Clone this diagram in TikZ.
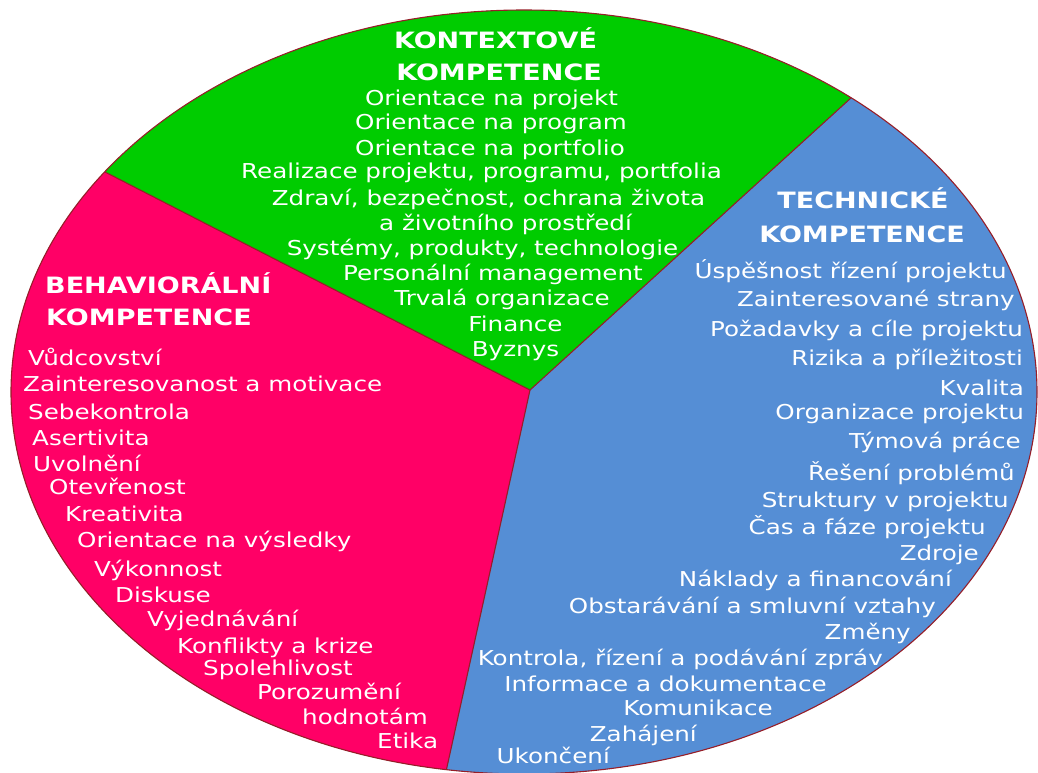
\documentclass[tikz,border=0pt]{standalone}
\usepackage{fontspec}
\setmainfont{DejaVu Sans}[FakeStretch=1.2]
\definecolor{cgreen}{RGB}{0,204,0}
\definecolor{cpink}{RGB}{255,0,102}
\definecolor{cblue}{RGB}{85,142,213}
\definecolor{cedge}{RGB}{150,30,40}
\newcommand{\bodyfnt}{\fontsize{20.5}{25}\selectfont}
\newcommand{\titfnt}{\fontsize{22.5}{28}\selectfont\bfseries}
\begin{document}
\begin{tikzpicture}[x=1pt,y=-1pt,
  lbl/.style={text=white,inner sep=0pt,font=\bodyfnt},
  ttl/.style={text=white,inner sep=0pt,font=\titfnt},
  edgeline/.style={draw=cedge,line width=1.1pt}]
\useasboundingbox (0,0) rectangle (1038,772);
\coordinate (O) at (524,392);
\coordinate (C) at (530,390);
\coordinate (E1) at (-316,-44);
\coordinate (E2) at (1174,-196);
\coordinate (E3) at (364,1144);
% sectors
\fill[cblue] (O) ellipse [x radius=513pt, y radius=382pt];
\begin{scope}
  \clip (C) -- (E1) -- (-316,1144) -- (E3) -- cycle;
  \fill[cpink] (O) ellipse [x radius=513pt, y radius=382pt];
\end{scope}
\begin{scope}
  \clip (C) -- (E1) -- (-316,-400) -- (1174,-400) -- (E2) -- cycle;
  \fill[cgreen] (O) ellipse [x radius=513pt, y radius=382pt];
\end{scope}
\begin{scope}
  \clip (O) ellipse [x radius=513pt, y radius=382pt];
  \draw[edgeline] (C) -- (E1);
  \draw[edgeline] (C) -- (E2);
  \draw[edgeline] (C) -- (E3);
\end{scope}
\draw[edgeline] (O) ellipse [x radius=513pt, y radius=382pt];

% green sector
\node[ttl,anchor=base] (g0) at (495.5,48) {KONTEXTOVÉ};
\node[ttl,anchor=base] (g00) at (499,80) {KOMPETENCE};
\node[lbl,anchor=base] (g1) at (491.5,105) {Orientace na projekt};
\node[lbl,anchor=base] (g2) at (491,129) {Orientace na program};
\node[lbl,anchor=base] (g3) at (490,155) {Orientace na portfolio};
\node[lbl,anchor=base] (g4) at (481.5,178) {Realizace projektu, programu, portfolia};
\node[lbl,anchor=base] (g5) at (488.5,205) {Zdraví, bezpečnost, ochrana života};
\node[lbl,anchor=base] (g6) at (505.5,230) {a životního prostředí};
\node[lbl,anchor=base] (g7) at (482.5,255) {Systémy, produkty, technologie};
\node[lbl,anchor=base] (g8) at (493,280) {Personální management};
\node[lbl,anchor=base] (g9) at (502,305) {Trvalá organizace};
\node[lbl,anchor=base] (g10) at (515.5,331) {Finance};
\node[lbl,anchor=base] (g11) at (515.5,356) {Byznys};

% pink sector
\node[ttl,anchor=base west] (p0) at (45,293) {BEHAVIORÁLNÍ};
\node[ttl,anchor=base west] (p00) at (46,325) {KOMPETENCE};
\node[lbl,anchor=base west] (p1) at (28,365) {Vůdcovství};
\node[lbl,anchor=base west] (p2) at (23,391) {Zainteresovanost a motivace};
\node[lbl,anchor=base west] (p3) at (28,419) {Sebekontrola};
\node[lbl,anchor=base west] (p4) at (32,445) {Asertivita};
\node[lbl,anchor=base west] (p5) at (33,471) {Uvolnění};
\node[lbl,anchor=base west] (p6) at (49,494) {Otevřenost};
\node[lbl,anchor=base west] (p7) at (65,521) {Kreativita};
\node[lbl,anchor=base west] (p8) at (77,547) {Orientace na výsledky};
\node[lbl,anchor=base west] (p9) at (94,576) {Výkonnost};
\node[lbl,anchor=base west] (p10) at (115,602) {Diskuse};
\node[lbl,anchor=base west] (p11) at (147,626) {Vyjednávání};
\node[lbl,anchor=base west] (p12) at (177,653) {Konflikty a krize};
\node[lbl,anchor=base west] (p13) at (203,675) {Spolehlivost};
\node[lbl,anchor=base west] (p14) at (257,699) {Porozumění};
\node[lbl,anchor=base west] (p15) at (302,724) {hodnotám};
\node[lbl,anchor=base west] (p16) at (377,748) {Etika};

% blue sector
\node[ttl,anchor=base] (b0) at (863,208) {TECHNICKÉ};
\node[ttl,anchor=base] (b00) at (862,242) {KOMPETENCE};
\node[lbl,anchor=base east] (b1) at (1007,278) {Úspěšnost řízení projektu};
\node[lbl,anchor=base east] (b2) at (1015,306) {Zainteresované strany};
\node[lbl,anchor=base east] (b3) at (1023,336) {Požadavky a cíle projektu};
\node[lbl,anchor=base east] (b4) at (1023,365) {Rizika a příležitosti};
\node[lbl,anchor=base east] (b5) at (1024,395) {Kvalita};
\node[lbl,anchor=base east] (b6) at (1024,419) {Organizace projektu};
\node[lbl,anchor=base east] (b7) at (1021,448) {Týmová práce};
\node[lbl,anchor=base east] (b8) at (1015,480) {Řešení problémů};
\node[lbl,anchor=base east] (b9) at (1009,507) {Struktury v projektu};
\node[lbl,anchor=base east] (b10) at (986,534) {Čas a fáze projektu};
\node[lbl,anchor=base east] (b11) at (979,560) {Zdroje};
\node[lbl,anchor=base east] (b12) at (952,586) {Náklady a financování};
\node[lbl,anchor=base east] (b13) at (936,613) {Obstarávání a smluvní vztahy};
\node[lbl,anchor=base east] (b14) at (911,639) {Změny};
\node[lbl,anchor=base east] (b15) at (883,665) {Kontrola, řízení a podávání zpráv};
\node[lbl,anchor=base east] (b16) at (827,691) {Informace a dokumentace};
\node[lbl,anchor=base east] (b17) at (773,715) {Komunikace};
\node[lbl,anchor=base east] (b18) at (697,741) {Zahájení};
\node[lbl,anchor=base east] (b19) at (610,763) {Ukončení};
\end{tikzpicture}
\end{document}
